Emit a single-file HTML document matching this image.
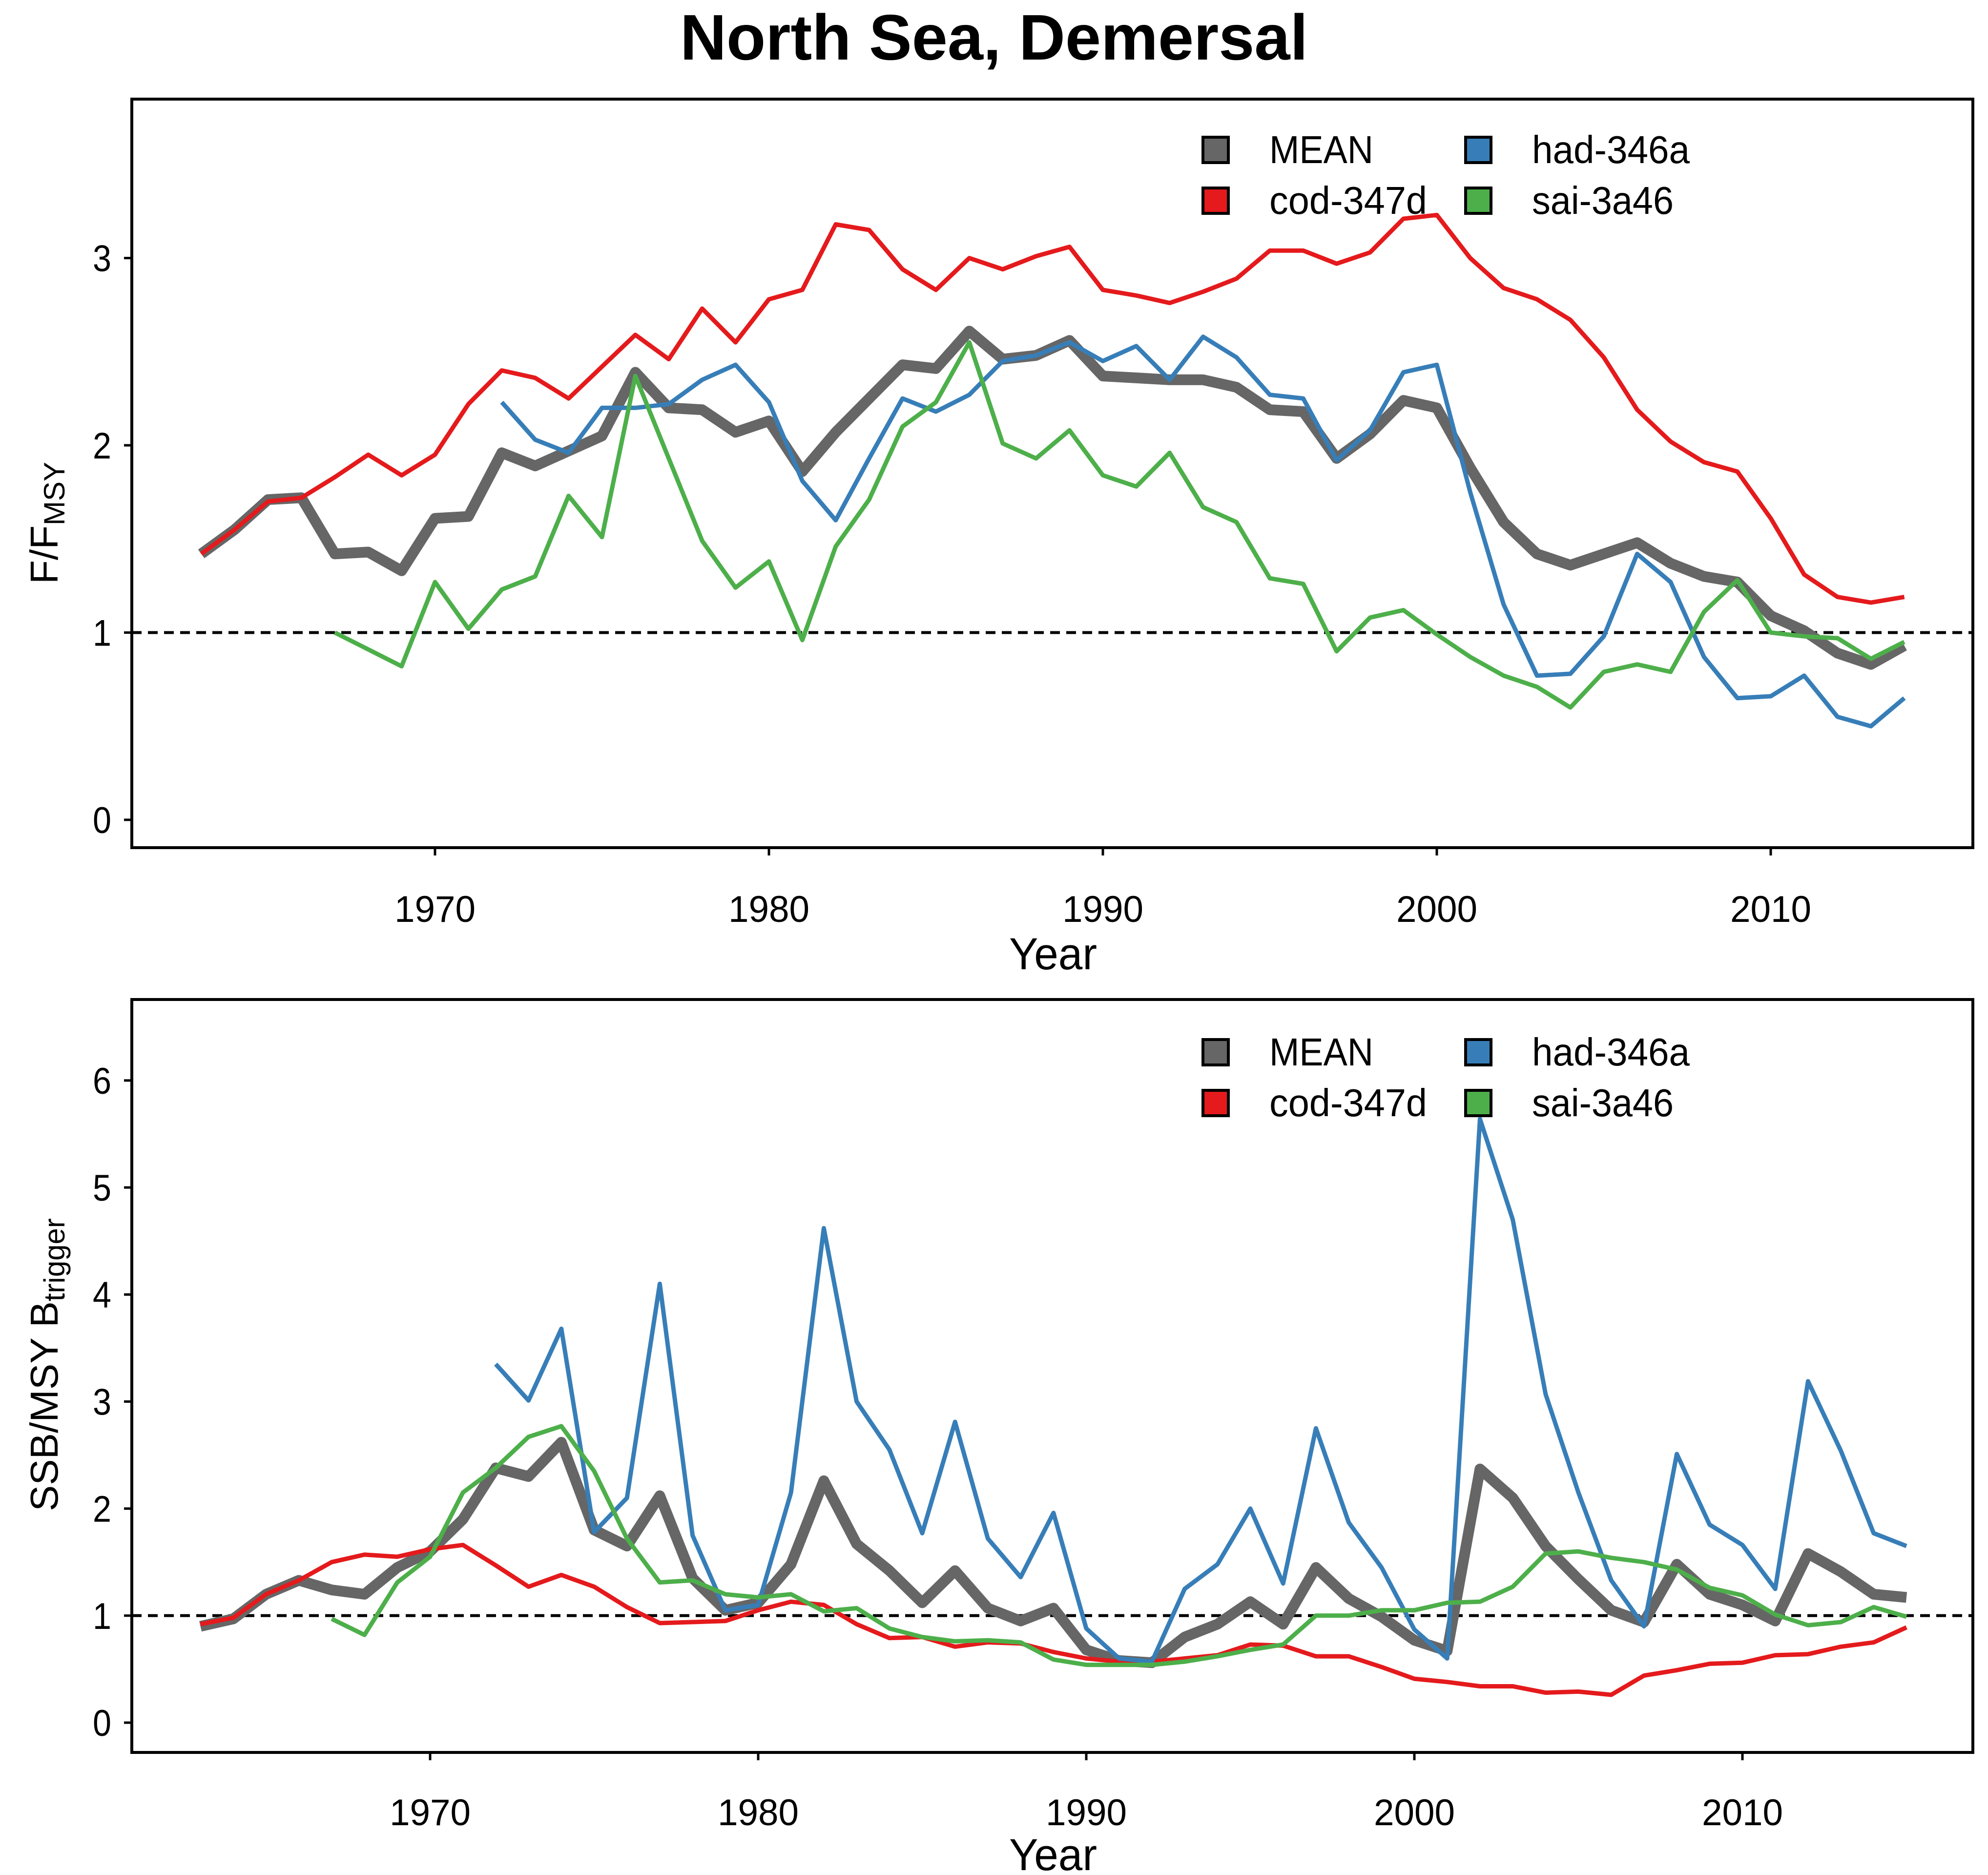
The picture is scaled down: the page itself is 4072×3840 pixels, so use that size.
<!DOCTYPE html>
<html><head><meta charset="utf-8"><style>
html,body{margin:0;padding:0;background:#fff}
svg{display:block;font-family:"Liberation Sans Narrow","Liberation Sans",sans-serif}
</style></head><body>
<svg id="chart" width="4072" height="3840" viewBox="0 0 4072 3840" xmlns="http://www.w3.org/2000/svg">
<rect width="4072" height="3840" fill="#fff"/>
<text x="2036" y="122" text-anchor="middle" font-size="132" font-weight="bold" textLength="1286" lengthAdjust="spacingAndGlyphs">North Sea, Demersal</text>
<g id="p1"></g>
<g id="p2"></g>
</svg>
<script>
const yearsF = []; for (let y = 1963; y <= 2014; y++) yearsF.push(y);
const yearsB = []; for (let y = 1963; y <= 2015; y++) yearsB.push(y);
const xTicks = [1970, 1980, 1990, 2000, 2010];
const yTicksF = [0, 1, 2, 3];
const yTicksB = [0, 1, 2, 3, 4, 5, 6];
const seriesNames = ["MEAN", "cod-347d", "had-346a", "sai-3a46"];
const seriesColors = ["#666666", "#e41a1c", "#377eb8", "#4daf4a"];

const fCod = [1.42,1.55,1.70,1.72,1.83,1.95,1.84,1.95,2.22,2.40,2.36,2.25,2.42,2.59,2.46,2.73,2.55,2.78,2.83,3.18,3.15,2.94,2.83,3.00,2.94,3.01,3.06,2.83,2.80,2.76,2.82,2.89,3.04,3.04,2.97,3.03,3.21,3.23,3.00,2.84,2.78,2.67,2.47,2.19,2.02,1.91,1.86,1.61,1.31,1.19,1.16,1.19];
const fHadStart = 1972;
const fHad = [2.23,2.03,1.96,2.20,2.20,2.22,2.35,2.43,2.23,1.81,1.60,1.93,2.25,2.18,2.27,2.45,2.48,2.55,2.45,2.53,2.35,2.58,2.47,2.27,2.25,1.92,2.08,2.39,2.43,1.75,1.15,0.77,0.78,0.98,1.42,1.27,0.87,0.65,0.66,0.77,0.55,0.50,0.65];
const fSaiStart = 1967;
const fSai = [1.00,0.91,0.82,1.27,1.02,1.23,1.30,1.73,1.51,2.37,1.93,1.49,1.24,1.38,0.96,1.46,1.71,2.10,2.23,2.55,2.01,1.93,2.08,1.84,1.78,1.96,1.67,1.59,1.29,1.26,0.90,1.08,1.12,0.99,0.87,0.77,0.71,0.60,0.79,0.83,0.79,1.11,1.28,1.00,0.98,0.97,0.86,0.95];
const fMean = [1.42,1.55,1.71,1.72,1.42,1.43,1.33,1.61,1.62,1.96,1.89,1.97,2.05,2.39,2.20,2.19,2.07,2.13,1.86,2.07,2.25,2.43,2.41,2.61,2.46,2.48,2.56,2.37,2.36,2.35,2.35,2.31,2.19,2.18,1.93,2.06,2.24,2.20,1.88,1.59,1.42,1.36,1.42,1.48,1.37,1.30,1.27,1.09,1.01,0.89,0.83,0.93];

const bCod = [0.92,0.98,1.20,1.33,1.50,1.57,1.55,1.62,1.66,1.47,1.27,1.38,1.27,1.08,0.93,0.94,0.95,1.05,1.13,1.10,0.92,0.79,0.80,0.71,0.75,0.74,0.66,0.60,0.57,0.57,0.60,0.63,0.73,0.72,0.62,0.62,0.52,0.41,0.38,0.34,0.34,0.28,0.29,0.26,0.44,0.49,0.55,0.56,0.63,0.64,0.71,0.75,0.89];
const bHadStart = 1972;
const bHad = [3.35,3.01,3.68,1.78,2.10,4.10,1.75,1.05,1.10,2.15,4.62,3.00,2.55,1.77,2.81,1.72,1.36,1.96,0.88,0.60,0.57,1.25,1.48,2.00,1.30,2.75,1.87,1.45,0.87,0.60,5.64,4.70,3.07,2.15,1.33,0.90,2.51,1.85,1.66,1.25,3.19,2.54,1.77,1.65];
const bSaiStart = 1967;
const bSai = [0.97,0.82,1.31,1.55,2.15,2.38,2.67,2.77,2.35,1.72,1.31,1.33,1.20,1.17,1.20,1.04,1.07,0.88,0.80,0.76,0.77,0.75,0.59,0.54,0.54,0.54,0.57,0.62,0.68,0.73,1.00,1.00,1.05,1.05,1.12,1.13,1.27,1.58,1.60,1.54,1.50,1.43,1.26,1.19,1.01,0.91,0.94,1.08,0.99];
const bMean = [0.90,0.97,1.20,1.33,1.24,1.20,1.45,1.60,1.90,2.38,2.30,2.62,1.80,1.65,2.12,1.35,1.05,1.12,1.48,2.26,1.67,1.42,1.12,1.42,1.07,0.95,1.07,0.68,0.58,0.56,0.80,0.92,1.13,0.92,1.45,1.16,0.99,0.77,0.67,2.37,2.10,1.65,1.34,1.05,0.94,1.48,1.20,1.10,0.95,1.58,1.41,1.20,1.17];

const NS = "http://www.w3.org/2000/svg";
function mk(parent, tag, attrs, text) {
  const e = document.createElementNS(NS, tag);
  for (const k in attrs) e.setAttribute(k, attrs[k]);
  if (text !== undefined) e.textContent = text;
  parent.appendChild(e);
  return e;
}

function panel(g, cfg) {
  const X = yr => cfg.x0 + (yr - 1970) * cfg.xs;
  const Y = v => cfg.y0 - v * cfg.ys;
  cfg.xticks.forEach(t => {
    const l = mk(g, "line", {x1: X(t), x2: X(t), y1: cfg.by2, y2: cfg.by2 + 16, stroke: "#000", "stroke-width": 5});
    
    
    const tx = mk(g, "text", {x: X(t), y: cfg.xlabY, "text-anchor": "middle", "font-size": 76, textLength: 166, lengthAdjust: "spacingAndGlyphs"}, String(t));
    
    
  });
  cfg.yticks.forEach(t => {
    const l = mk(g, "line", {x1: cfg.bx1 - 16, x2: cfg.bx1, y1: Y(t), y2: Y(t), stroke: "#000", "stroke-width": 5});
    
    
    const tx = mk(g, "text", {x: 228, y: Y(t) + 27, "text-anchor": "end", "font-size": 76, textLength: 38, lengthAdjust: "spacingAndGlyphs"}, String(t));
    
    
  });
  const ref = mk(g, "line", {x1: cfg.bx1, x2: cfg.bx2, y1: Y(1), y2: Y(1), stroke: "#000", "stroke-width": 6, "stroke-dasharray": "20 13"});
  
  
  const draw = (vals, start, color, w, name) => {
    const pts = vals.map((v, i) => X(start + i).toFixed(1) + "," + Y(v).toFixed(1)).join(" ");
    const p = mk(g, "polyline", {points: pts, fill: "none", stroke: color, "stroke-width": w, "stroke-linejoin": "round"});
    
    
  };
  draw(cfg.mean, 1963, seriesColors[0], 22, "series-mean");
  draw(cfg.cod, 1963, seriesColors[1], 9, "series-cod-347d");
  draw(cfg.had, cfg.hadStart, seriesColors[2], 9, "series-had-346a");
  draw(cfg.sai, cfg.saiStart, seriesColors[3], 9, "series-sai-3a46");
  const box = mk(g, "rect", {x: cfg.bx1, y: cfg.by1, width: cfg.bx2 - cfg.bx1, height: cfg.by2 - cfg.by1, fill: "none", stroke: "#000", "stroke-width": 6});
  
  
  const lg = mk(g, "g", {});
  
  
  const cols = [2490, 3028], rows = cfg.legRows;
  const widths = [213, 323, 323, 290];
  seriesNames.forEach((n, i) => {
    const cx = cols[Math.floor(i / 2)], cy = rows[i % 2];
    const r = mk(lg, "rect", {x: cx - 26, y: cy - 26, width: 52, height: 52, fill: seriesColors[i], stroke: "#000", "stroke-width": 6});
    
    
    const t = mk(lg, "text", {x: cx + 110, y: cy + 27, "font-size": 80, textLength: widths[i], lengthAdjust: "spacingAndGlyphs"}, n);
    
    
  });
  const xt = mk(g, "text", {x: 2157, y: cfg.xTitleY, "text-anchor": "middle", "font-size": 92, textLength: 180, lengthAdjust: "spacingAndGlyphs"}, "Year");
  
  
  const yt = mk(g, "text", {transform: "translate(118," + cfg.yTitleC + ") rotate(-90)", "text-anchor": "middle", "font-size": 80, "font-family": "Liberation Sans, sans-serif"});
  
  
  mk(yt, "tspan", {}, cfg.yMain);
  mk(yt, "tspan", {dy: 14, "font-size": 60}, cfg.ySub);
}

panel(document.getElementById("p1"), {
  x0: 891, xs: 68.4, y0: 1679, ys: 383.5,
  bx1: 270, bx2: 4041, by1: 203, by2: 1736,
  xticks: xTicks, yticks: yTicksF, xlabY: 1888, xTitleY: 1985,
  legRows: [307, 411], yTitleC: 1071, yMain: "F/F", ySub: "MSY",
  mean: fMean, cod: fCod, had: fHad, hadStart: fHadStart, sai: fSai, saiStart: fSaiStart
});
panel(document.getElementById("p2"), {
  x0: 881, xs: 67.2, y0: 3528, ys: 219.2,
  bx1: 270, bx2: 4041, by1: 2047, by2: 3589,
  xticks: xTicks, yticks: yTicksB, xlabY: 3738, xTitleY: 3830,
  legRows: [2155, 2259], yTitleC: 2795, yMain: "SSB/MSY B", ySub: "trigger",
  mean: bMean, cod: bCod, had: bHad, hadStart: bHadStart, sai: bSai, saiStart: bSaiStart
});
</script>
</body></html>
